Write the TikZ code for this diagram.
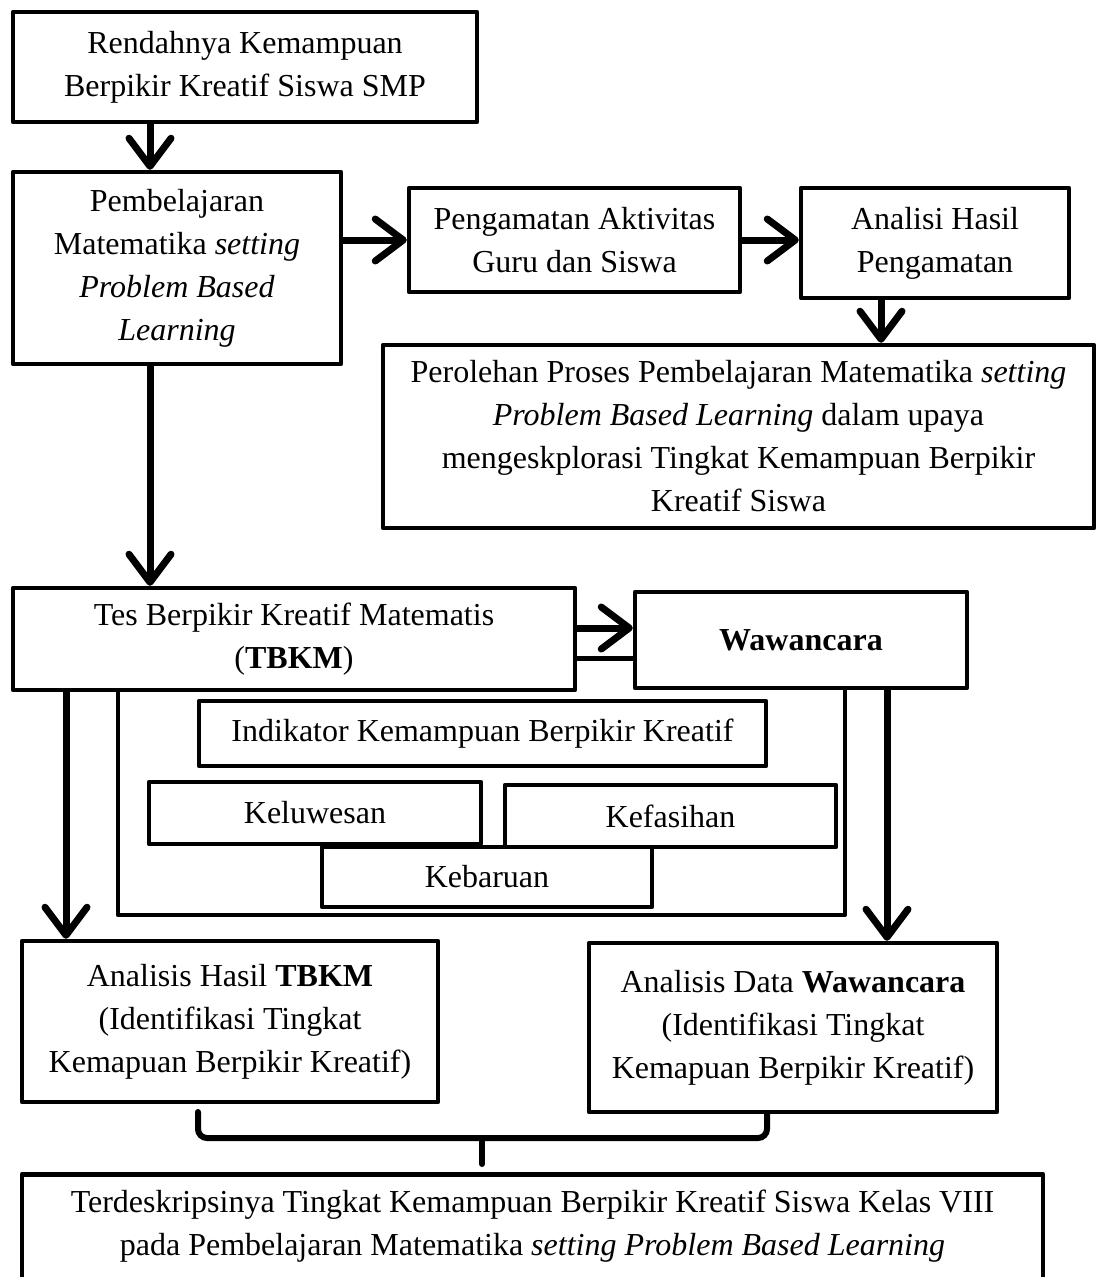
\documentclass[tikz,border=0pt]{standalone}
\usepackage{fontspec}
\setmainfont{Liberation Serif}
\usetikzlibrary{arrows.meta}
\begin{document}
\begin{tikzpicture}[x=1pt,y=-1pt,
  box/.style={draw, line width=4.5pt, line join=round, rectangle, align=center, inner sep=4pt,
    font=\fontsize{32}{43}\selectfont},
  arr/.style={line width=7pt, -{Straight Barb[length=28pt,width=42pt,round]}},
  plainline/.style={line width=5pt},
  cont/.style={line width=4.5pt, line join=round},
  bracestyle/.style={line width=6pt, line cap=round, rounded corners=9pt}]
\fill[white] (0,0) rectangle (1096,1277);
\useasboundingbox (0,0) rectangle (1096,1277);

\node[box, minimum width=464, minimum height=110] (b1) at (245,67) {Rendahnya Kemampuan\\Berpikir Kreatif Siswa SMP};
\node[box, minimum width=328, minimum height=192] (b2) at (177,268) {Pembelajaran\\Matematika \textit{setting}\\\textit{Problem Based}\\\textit{Learning}};
\node[box, minimum width=331, minimum height=104] (b3) at (574.5,240) {Pengamatan Aktivitas\\Guru dan Siswa};
\node[box, minimum width=268, minimum height=110] (b4) at (935,243) {Analisi Hasil\\Pengamatan};
\node[box, minimum width=711, minimum height=183] (b5) at (738.5,436.5) {Perolehan Proses Pembelajaran Matematika \textit{setting}\\\textit{Problem Based Learning} dalam upaya\\mengeskplorasi Tingkat Kemampuan Berpikir\\Kreatif Siswa};
\node[box, minimum width=562, minimum height=102] (b6) at (294,639) {Tes Berpikir Kreatif Matematis\\(\textbf{TBKM})};
\node[box, minimum width=332, minimum height=96] (b7) at (801,640) {\textbf{Wawancara}};
\node[box, minimum width=567, minimum height=65] (ind) at (482.5,733.5) {Indikator Kemampuan Berpikir Kreatif};
\node[box, minimum width=332, minimum height=62] (kel) at (315,813) {Keluwesan};
\node[box, minimum width=331, minimum height=62] (kef) at (670.5,816) {Kefasihan};
\node[box, minimum width=330, minimum height=60] (keb) at (487,877) {Kebaruan};
\node[box, minimum width=416, minimum height=161] (ah) at (230,1021.5) {Analisis Hasil \textbf{TBKM}\\(Identifikasi Tingkat\\Kemapuan Berpikir Kreatif)};
\node[box, minimum width=408, minimum height=169] (ad) at (793,1027.5) {Analisis Data \textbf{Wawancara}\\(Identifikasi Tingkat\\Kemapuan Berpikir Kreatif)};
\node[box, anchor=north, minimum width=1021, inner ysep=16pt, text depth=110pt] (bot) at (532.5,1172) {Terdeskripsinya Tingkat Kemampuan Berpikir Kreatif Siswa Kelas VIII\\pada Pembelajaran Matematika \textit{setting Problem Based Learning}};

% helper coordinates
\coordinate (xA) at (150,0);
\coordinate (xB) at (881,0);
\coordinate (yT) at (0,628);
\coordinate (yL) at (0,658);
\coordinate (xL) at (66,0);
\coordinate (xR) at (887,0);
\coordinate (cl) at (118,915);
\coordinate (cr) at (845,915);
\coordinate (brL) at (198,1112);
\coordinate (brM) at (482,1138);
\coordinate (brR) at (767,0);

\draw[arr] (b1.south -| xA) -- (b2.north -| xA);
\draw[arr] (b2.south -| xA) -- (b6.north -| xA);
\draw[arr] (b2.east |- b3.west) -- (b3.west);
\draw[arr] (b3.east) -- (b3.east -| b4.west);
\draw[arr] (b4.south -| xB) -- (b5.north -| xB);
\draw[arr] (b6.east |- yT) -- (b7.west |- yT);
\draw[plainline] (b6.east |- yL) -- (b7.west |- yL);
\draw[arr] (b6.south -| xL) -- (ah.north -| xL);
\draw[arr] (b7.south -| xR) -- (ad.north -| xR);
\draw[cont] (b6.south -| cl) -- (cl) -- (cr) -- (b7.south -| cr);

\draw[bracestyle] (brL) -- (brL |- brM) -- (brR |- brM) -- (ad.south -| brR);
\draw[line width=6pt, line cap=round, shorten >=8pt] (brM) -- (bot.north -| brM);
\end{tikzpicture}
\end{document}
